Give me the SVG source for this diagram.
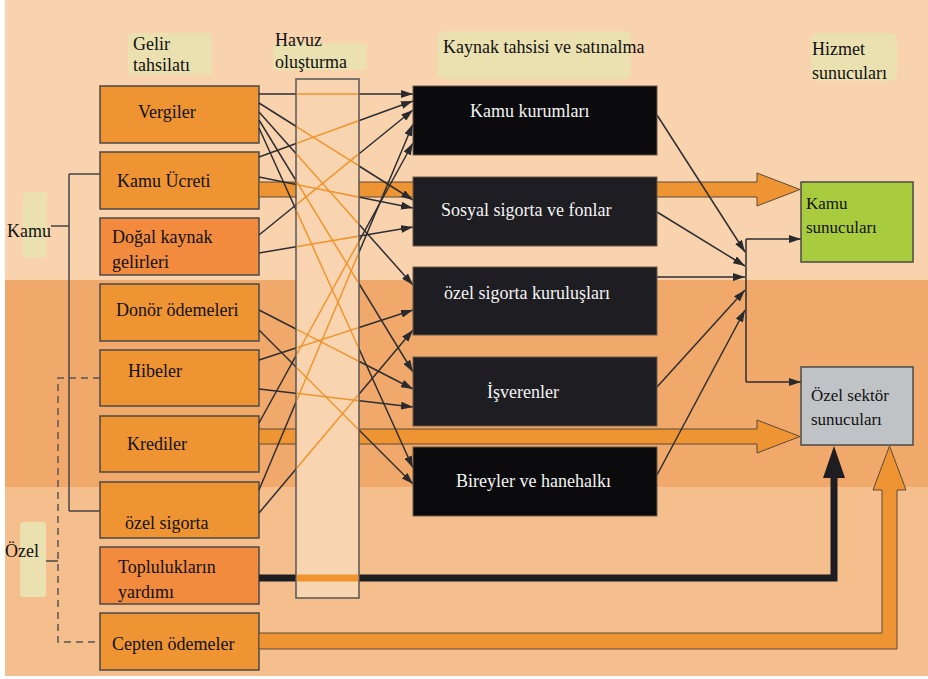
<svg xmlns="http://www.w3.org/2000/svg" xmlns:xlink="http://www.w3.org/1999/xlink" width="928" height="679" viewBox="0 0 928 679">
<style>
.t{font-family:"Liberation Serif","Times New Roman",serif;font-size:18px;fill:#111}
.tw{font-family:"Liberation Serif","Times New Roman",serif;font-size:18px;fill:#f4f4f4}
.src{fill:#EF9432;stroke:#4a4a4a;stroke-width:1.5}
.src2{fill:#F28B3E;stroke:#4a4a4a;stroke-width:1.5}
.blk{fill:#0b0b0d;stroke:#6b5a48;stroke-width:1}
.patch{fill:#EBE1B0}
.br{stroke:#444;stroke-width:1.5;fill:none}
.dash{stroke:#555;stroke-width:1.5;fill:none;stroke-dasharray:7 5}
.thick{fill:#EF9432;stroke:#5a4a3a;stroke-width:1}
.ln{stroke-width:1.5;fill:none}
</style>
<defs>
<marker id="ah" viewBox="0 0 12 8" refX="12" refY="4" markerWidth="12" markerHeight="8" markerUnits="userSpaceOnUse" orient="auto">
<path d="M0,0 L12,4 L0,8 z" fill="#2a2a2e"/>
</marker>
<clipPath id="poolclip"><rect x="296.75" y="79.75" width="61.5" height="517.5"/></clipPath>
</defs>
<!-- background bands -->
<rect x="0" y="0" width="928" height="679" fill="#ffffff"/>
<rect x="5" y="0" width="923" height="280" fill="#F9D3AE"/>
<rect x="5" y="280" width="923" height="207" fill="#F0A96A"/>
<rect x="5" y="487" width="923" height="189" fill="#F5BF8D"/>
<!-- pale patches -->
<g id="patches">
<rect class="patch" x="128" y="33" width="84" height="42" rx="4"/>
<rect class="patch" x="273" y="43" width="94" height="27" rx="4"/>
<rect class="patch" x="437" y="31" width="194" height="48" rx="6"/>
<rect class="patch" x="811" y="33" width="86" height="48" rx="6"/>
<rect class="patch" x="23" y="192" width="24" height="66" rx="3"/>
<rect class="patch" x="20" y="522" width="26" height="75" rx="3"/>
</g>
<!-- headers -->
<g id="headers">
<text class="t" x="133" y="50">Gelir</text>
<text class="t" x="133" y="71">tahsilatı</text>
<text class="t" x="275" y="46">Havuz</text>
<text class="t" x="275" y="68">oluşturma</text>
<text class="t" x="443" y="53">Kaynak tahsisi ve satınalma</text>
<text class="t" x="812" y="55">Hizmet</text>
<text class="t" x="812" y="79">sunucuları</text>
</g>
<!-- Kamu / Özel brackets -->
<g id="groups">
<text class="t" x="7" y="237">Kamu</text>
<path class="br" d="M51,226 H69 M69,174 V511 M69,174 H100 M69,511 H100"/>
<text class="t" x="5" y="557">Özel</text>
<path class="br" d="M46,561 H58"/>
<path class="dash" d="M100,378 H58 V642 H100"/>
</g>
<!-- source nodes -->
<g id="n-vergiler"><rect class="src" x="100" y="86" width="159" height="57"/><text class="t" x="138" y="118">Vergiler</text></g>
<g id="n-kamuucreti"><rect class="src" x="100" y="152" width="159" height="57"/><text class="t" x="117" y="187">Kamu Ücreti</text></g>
<g id="n-dogal"><rect class="src2" x="100" y="218" width="159" height="57"/><text class="t" x="112" y="243">Doğal kaynak</text><text class="t" x="112" y="268">gelirleri</text></g>
<g id="n-donor"><rect class="src" x="100" y="284" width="159" height="57"/><text class="t" x="116" y="316">Donör ödemeleri</text></g>
<g id="n-hibeler"><rect class="src" x="100" y="350" width="159" height="56"/><text class="t" x="128" y="377">Hibeler</text></g>
<g id="n-krediler"><rect class="src" x="100" y="416" width="159" height="56"/><text class="t" x="127" y="450">Krediler</text></g>
<g id="n-ozelsigorta"><rect class="src" x="100" y="482" width="159" height="56"/><text class="t" x="125" y="529">özel sigorta</text></g>
<g id="n-topluluk"><rect class="src2" x="100" y="547" width="159" height="57"/><text class="t" x="118" y="573">Toplulukların</text><text class="t" x="118" y="598">yardımı</text></g>
<g id="n-cepten"><rect class="src" x="100" y="613" width="159" height="57"/><text class="t" x="112" y="650">Cepten ödemeler</text></g>
<!-- connectors -->
<g id="connectors">
<polygon class="thick" points="259,182 757,182 757,173 800,189.5 757,206 757,197 259,197"/>
<polygon class="thick" points="259,429 757,429 757,420 800,436.5 757,453 757,444 259,444"/>
<polygon class="thick" points="259,633 882,633 882,490 873,490 889.5,446 906,490 897,490 897,649 259,649"/>
<g stroke="#1d1d22">
<g id="thickblack"><polyline points="259,578 834,578 834,476" stroke-width="7" fill="none"/></g>
</g>
<polygon points="823,478 834,446 845,478" fill="#1d1d22"/>
<g stroke="#2e2e33">
<g id="thin">
<line class="ln" x1="259" y1="94" x2="413" y2="94" marker-end="url(#ah)"/>
<line class="ln" x1="259" y1="103" x2="413" y2="200" marker-end="url(#ah)"/>
<line class="ln" x1="259" y1="112" x2="413" y2="285" marker-end="url(#ah)"/>
<line class="ln" x1="259" y1="120" x2="413" y2="372" marker-end="url(#ah)"/>
<line class="ln" x1="259" y1="128" x2="413" y2="468" marker-end="url(#ah)"/>
<line class="ln" x1="259" y1="157" x2="413" y2="101" marker-end="url(#ah)"/>
<line class="ln" x1="259" y1="177" x2="413" y2="208" marker-end="url(#ah)"/>
<line class="ln" x1="259" y1="235" x2="413" y2="110" marker-end="url(#ah)"/>
<line class="ln" x1="259" y1="253" x2="413" y2="227" marker-end="url(#ah)"/>
<line class="ln" x1="259" y1="310" x2="413" y2="389" marker-end="url(#ah)"/>
<line class="ln" x1="259" y1="330" x2="413" y2="484" marker-end="url(#ah)"/>
<line class="ln" x1="259" y1="360" x2="413" y2="310" marker-end="url(#ah)"/>
<line class="ln" x1="259" y1="389" x2="413" y2="407" marker-end="url(#ah)"/>
<line class="ln" x1="259" y1="423" x2="413" y2="143" marker-end="url(#ah)"/>
<line class="ln" x1="259" y1="490" x2="413" y2="124" marker-end="url(#ah)"/>
<line class="ln" x1="259" y1="513" x2="413" y2="330" marker-end="url(#ah)"/>
</g>
</g>
<!-- pool -->
<g id="n-havuz">
<rect x="296" y="79" width="63" height="519" fill="#F9D4B0" stroke="#555" stroke-width="1.5"/>
<use xlink:href="#thin" stroke="#F0952E" clip-path="url(#poolclip)"/>
<use xlink:href="#thickblack" stroke="#F0952E" clip-path="url(#poolclip)"/>
</g>
<!-- right side -->
<g stroke="#2e2e33">
<line class="ln" x1="657" y1="115" x2="745" y2="252" marker-end="url(#ah)"/>
<line class="ln" x1="657" y1="212" x2="745" y2="266" marker-end="url(#ah)"/>
<line class="ln" x1="657" y1="277" x2="745" y2="277" marker-end="url(#ah)"/>
<line class="ln" x1="657" y1="387" x2="745" y2="290" marker-end="url(#ah)"/>
<line class="ln" x1="657" y1="475" x2="745" y2="310" marker-end="url(#ah)"/>
<path class="ln" d="M746,239 V382"/>
<line class="ln" x1="746" y1="239" x2="801" y2="239" marker-end="url(#ah)"/>
<line class="ln" x1="746" y1="382" x2="801" y2="382" marker-end="url(#ah)"/>
</g>
</g>
<!-- purchasing nodes -->
<g id="n-kamukurum"><rect class="blk" x="413" y="86" width="244" height="69"/><text class="tw" x="470" y="117">Kamu kurumları</text></g>
<g id="n-sosyal"><rect class="blk" x="413" y="177" width="244" height="69" style="fill:#1e1d22"/><text class="tw" x="441" y="216">Sosyal sigorta ve fonlar</text></g>
<g id="n-ozelkurum"><rect class="blk" x="413" y="267" width="244" height="68" style="fill:#1e1d22"/><text class="tw" x="444" y="299">özel sigorta kuruluşları</text></g>
<g id="n-isveren"><rect class="blk" x="413" y="357" width="244" height="69" style="fill:#1e1d22"/><text class="tw" x="487" y="398">İşverenler</text></g>
<g id="n-bireyler"><rect class="blk" x="413" y="447" width="244" height="69"/><text class="tw" x="456" y="487">Bireyler ve hanehalkı</text></g>
<!-- providers -->
<g id="n-kamusunucu"><rect x="801" y="182" width="112" height="80" fill="#A9CC3E" stroke="#4a4a4a" stroke-width="1.5"/><text class="t" x="806" y="209" style="font-size:17px">Kamu</text><text class="t" x="806" y="233" style="font-size:17px">sunucuları</text></g>
<g id="n-ozelsunucu"><rect x="801" y="367" width="112" height="78" fill="#BFC3C6" stroke="#4a4a4a" stroke-width="1.5"/><text class="t" x="811" y="401" style="font-size:17px">Özel sektör</text><text class="t" x="811" y="425" style="font-size:17px">sunucuları</text></g>
</svg>
